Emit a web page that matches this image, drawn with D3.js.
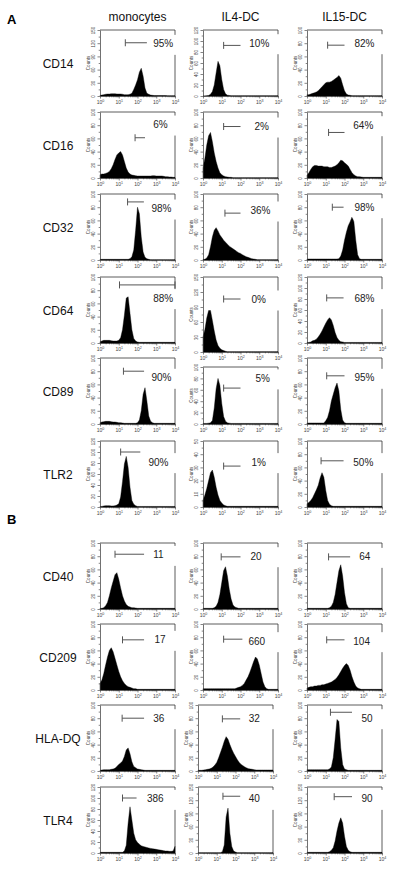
<!DOCTYPE html>
<html><head><meta charset="utf-8">
<script src="https://cdn.jsdelivr.net/npm/d3@7"></script>
<style>
body{margin:0;background:#fff;}
svg{display:block;font-family:Arial,"Liberation Sans",sans-serif;}
</style></head><body>
<svg id="c" width="400" height="871"></svg>
<script>
// ---------- DATA ----------
const columns = ["monocytes", "IL4-DC", "IL15-DC"];
const markersA = ["CD14", "CD16", "CD32", "CD64", "CD89", "TLR2"];
const markersB = ["CD40", "CD209", "HLA-DQ", "TLR4"];
const decadeTicks = [1, 10, 100, 1000, 10000];
// histogram channels: log10 fluorescence 0.0 .. 4.0 in steps of 0.1
const binExp = d3.range(41).map(i => i / 10);

// counts per channel, [monocytes, IL4-DC, IL15-DC]
const cd14Counts = [
  [1.5,2,3,4,4.5,4.5,5,5,5,4.5, 4.5,4.5,4,3,3,3,4,6,15,25, 37,54,63,45,18,6,4,2,1.5,1, 1,1,1,1,1,1,0.5,0.5,0.5,0.5, 0.5],
  [0,0,0.5,1,3,8,20,42,63,55, 30,12,4,1.5,1,0.5,0.5,0.5,0.5,0.5, 0.5,0.5,0.5,0.5,0.5,0.5,0.5,0.5,0.5,0.5, 0.5,0.5,0.5,0.5,0.5,0.5,0.5,0.5,0.5,0.5, 0.5],
  [2,2,3,4,5,6,8,11,14,17, 20,21,21,22,24,26,28,31,27,17, 8,3,1.5,1,0.5,0.5,0.5,0.5,0.5,0.5, 0.5,0.5,0.5,0.5,0.5,0.5,0.5,0.5,0.5,0.5, 0.5]
];
const cd16Counts = [
  [5,6,6,7,8,10,14,20,28,35, 38,40,35,25,15,9,6,4.5,4,3.5, 3,3,3,3,3,3,3,3,3.5,3.5, 3,3,3,3,2.5,2,2,1.5,1.5,1, 1],
  [15,30,50,64,69,55,38,25,15,8, 5,3,2,1.5,1,1,0.5,0.5,0.5,0.5, 0.5,0.5,0.5,0.5,0.5,0.5,0.5,0.5,0.5,0.5, 0.5,0.5,0.5,0.5,0.5,0.5,0.5,0.5,0.5,0.5, 0.5],
  [4,8,13,17,19,19,18,18,18,17, 17,17,16,16,17,18,20,23,27,26, 23,21,18,13,8,5,3,2,2,1.5, 1,1,1,1,1,1,1,1,1,1, 1]
];
const cd32Counts = [
  [1,1,1,1,1,1,1,1,1,1, 1,1,1,1,1,1,2,5,15,45, 80,70,35,12,4,2,1,0.5,0.5,0.5, 0.5,0.5,0.5,0.5,0.5,0.5,0.5,0.5,0.5,0.5, 0.5],
  [1,1,3,8,20,35,45,49,44,38, 34,30,27,24,21,19,17,15,13,11, 10,8,6.5,5,4,3,2,1.5,1,0.5, 0.5,0.5,0.5,0.5,0.5,0.5,0.5,0.5,0.5,0.5, 0.5],
  [1.5,1.5,1.5,1.5,1.5,1.5,1.5,1.5,1.5,1.5, 1.5,1.5,1.5,1.5,1.5,1.5,1.5,2,6,15, 30,42,52,58,65,58,30,8,2,1, 1,1,1,1,1,1,1,1,1,1, 1]
];
const cd64Counts = [
  [2,3,4,4,4,4,3.5,3,3,3, 4,8,20,42,68,70,45,20,7,3, 1.5,1,1,1,1,1,1,1,1,1, 1,1,1,1,1,1,1,1,1,1, 1],
  [30,45,68,83,83,63,42,24,13,7.5, 4.5,3,1.5,0.7,0.7,0.7,0.7,0.7,0.7,0.7, 0.7,0.7,0.7,0.7,0.7,0.7,0.7,0.7,0.7,0.7, 0.7,0.7,0.7,0.7,0.7,0.7,0.7,0.7,0.7,0.7, 0.7],
  [1,1,2,4,5,7,11,16,22,29, 36,42,46,42,32,19,10,5,2.5,2, 1,1,1,1,1,1,1,1,1,1, 1,1,1,1,1,1,1,1,1,1, 1]
];
const cd89Counts = [
  [2,3,3.5,4,4,4,3.5,3,3,2.5, 2,2,1.5,1,1,1,1,1,1,1, 2,6,20,45,55,35,12,4,2,1, 1,1,1,1,1,1,1,1,1,1, 1],
  [1,1,1,1.5,2,6,28,62,80,68, 36,13,5,2,1.5,1,1,1,1,1, 1,1,1,1,1,1,1,1,1,1, 1,1,1,1,1,1,1,1,1,1, 1],
  [1.5,1.5,1.5,1.5,1.5,1.5,1.5,1.5,1.5,1.5, 5,10,20,35,45,55,62,50,22,6, 2,1,1,1,1,1,1,1,1,1, 1,1,1,1,1,1,1,1,1,1, 1]
];
const tlr2Counts = [
  [1,1,2,2.5,2.5,2.5,2,2,2.5,3.5, 6,18,46,78,92,72,36,12,5,2.5, 1,1,1,1,1,1,1,1,1,1, 1,1,1,1,1,1,1,1,1,1, 1],
  [5,9,14,20,26,28,22.5,15,9,5, 3,1.5,1,0.5,0.5,0.5,0.5,0.5,0.5,0.5, 0.5,0.5,0.5,0.5,0.5,0.5,0.5,0.5,0.5,0.5, 0.5,0.5,0.5,0.5,0.5,0.5,0.5,0.5,0.5,0.5, 0.5],
  [5,7,10,14,20,26,33,44,52,45, 25,10,4,2,1,1,1,1,1,1, 1,1,1,1,1,1,1,1,1,1, 1,1,1,1,1,1,1,1,1,1, 1]
];
const cd40Counts = [
  [1,1,2,5,10,20,32,42,52,55, 45,32,20,12,7,4,3,2,2,1.5, 1,1,1,1,1,1,1,1,1,1, 1,1,1,1,1,1,1,1,1,1, 1],
  [1,1,1,1,1,1,2,4,10,22, 40,58,64,50,30,15,6,3,2,1, 1,1,1,1,1,1,1,1,1,1, 1,1,1,1,1,1,1,1,1,1, 1],
  [1,1,1,1,1,1,1,1,1,1, 1,1,2,4,10,22,40,58,67,50, 25,8,2,1,1,1,1,1,1,1, 1,1,1,1,1,1,1,1,1,1, 1]
];
const cd209Counts = [
  [10,15,25,38,50,60,64,58,48,38, 28,20,14,10,7,5,4,3,2,2, 1,1,1,1,1,1,1,1,1,1, 1,1,1,1,1,1,1,1,1,1, 1],
  [2,2,2,2,2,2,2,2,2,2, 2,2,2,2,2,2,2,2,3,4, 5,7,10,15,20,27,35,43,50,47, 38,25,12,5,2,1,1,1,1,1, 1],
  [3,4,5,5,6,6,7,7,8,8, 9,10,11,12,14,16,19,23,28,33, 37,40,37,30,20,12,6,3,2,1, 1,1,1,1,1,1,1,1,1,1, 1]
];
const hladqCounts = [
  [1,1.5,2,2,2,2,2.5,3,4,7, 10,12,15,22,32,35,26,14,7,5, 3,2.5,2,1.5,1,1,1,1,1,1, 1,1,1,1,1,1,1,1,1,1, 1],
  [1,1,1,1.5,2,2.5,3,4,6,9, 13,20,28,36,45,52,48,40,33,27, 22,17,13,10,8,6,4.5,3.5,3,2.5, 2,1.5,1.5,1.5,1.5,1.5,1.5,1.5,1.5,1.5, 1.5],
  [2,2,2,2,2,2,2,2,2,2, 2,2,3,6,20,48,78,75,35,10, 3,2,1,1,1,1,1,1,1,1, 1,1,1,1,1,1,1,1,1,1, 1]
];
const tlr4Counts = [
  [1.2,1.2,1.2,1.2,1.2,1.2,1.2,1.2,1.2,1.2, 1.2,1.2,1.2,3.6,14,54,84,60,36,24, 19,16,13,12,11,10,9,8.4,7.8,7.2, 6.6,6,5.4,4.8,4.2,3.6,3.6,3,3,3.6, 12],
  [0.8,0.8,0.8,0.8,0.8,0.8,0.8,0.8,0.8,0.8, 0.8,0.8,0.8,3,18,82,102,45,15,4.5, 2,0.8,0.8,0.8,0.8,0.8,0.8,0.8,0.8,0.8, 0.8,0.8,0.8,0.8,0.8,0.8,0.8,0.8,0.8,0.8, 0.8],
  [1.5,1.5,1.5,1.5,1.5,1.5,1.5,1.5,1.5,1.5, 1.5,1.5,3,6,12,27,50,68,80,68, 38,15,6,3,1.5,1.5,1.5,1.5,1.5,1.5, 1.5,1.5,1.5,1.5,1.5,1.5,1.5,1.5,1.5,1.5, 1.5]
];
const countsA = [cd14Counts, cd16Counts, cd32Counts, cd64Counts, cd89Counts, tlr2Counts];
const countsB = [cd40Counts, cd209Counts, hladqCounts, tlr4Counts];

// y-axis maximum (counts)
const yMaxA = [[150,120,100],[100,100,100],[100,100,100],[100,150,120],[100,100,100],[120,50,100]];
const yMaxB = [[100,100,100],[100,100,100],[100,100,100],[120,150,150]];

// marker gate: [start exponent, end exponent, count level]
const gatesA = [
  [[1.35,2.5,121],[1.1,2.0,92],[1.1,2.0,77]],
  [[1.87,2.4,61],[1.1,2.0,78],[1.15,2.0,69]],
  [[1.47,2.34,88],[1.17,2.0,71],[1.35,1.95,80]],
  [[1.04,4.0,88],[1.1,2.0,106],[1.05,1.95,82]],
  [[1.25,2.35,80],[1.1,2.0,63],[1.05,2.0,73]],
  [[1.1,2.15,100],[1.1,2.0,31],[0.75,1.95,70]]
];
const gatesB = [
  [[0.8,2.35,83],[0.97,2.0,79],[1.15,2.3,79]],
  [[1.2,2.35,76],[1.1,2.1,77],[1.05,2.0,76]],
  [[1.18,2.35,80],[1.3,2.25,79],[1.25,2.4,89]],
  [[1.2,1.95,100],[1.33,2.25,129],[1.45,2.4,128]]
];
const statsA = [["95%","10%","82%"],["6%","2%","64%"],["98%","36%","98%"],["88%","0%","68%"],["90%","5%","95%"],["90%","1%","50%"]];
const statsB = [["11","20","64"],["17","660","104"],["36","32","50"],["386","40","90"]];

// ---------- LAYOUT ----------
const rowTopA = [30, 112, 194, 277, 358, 441];
const rowTopB = [543, 624, 705, 787];
const colLeft = [100, 203, 307];
const boxW = 75, boxH = 66;
// individual panels that sit off the regular grid: key "section-row-col"
const boxOverride = {
  "A-3-1": {top: 277, h: 75},
  "A-4-1": {top: 367, h: 57},
  "B-2-1": {left: 198},
  "B-3-1": {left: 198}
};
// stat label anchor in axis units: [exponent, fraction of y range]
const labelAtA = [
  [[2.84,0.79],[2.47,0.8],[2.53,0.8]],
  [[2.84,0.81],[2.74,0.78],[2.47,0.8]],
  [[2.74,0.78],[2.53,0.75],[2.53,0.8]],
  [[2.84,0.68],[2.58,0.7],[2.53,0.68]],
  [[2.74,0.7],[2.8,0.8],[2.53,0.7]],
  [[2.58,0.68],[2.58,0.68],[2.47,0.68]]
];
const labelAtB = [
  [[2.84,0.82],[2.53,0.8],[2.79,0.79]],
  [[2.9,0.76],[2.42,0.74],[2.47,0.74]],
  [[2.84,0.8],[2.7,0.8],[2.9,0.8]],
  [[2.5,0.82],[2.7,0.82],[2.9,0.82]]
];

const svg = d3.select("#c");
const axisColor = "#333";

function tickStep(m){ return m === 150 ? 30 : (m === 50 ? 10 : 20); }

function drawPanel(counts, ymax, gate, stat, lab, left, top, h, twoEnded) {
  const g = svg.append("g");
  const x = d3.scaleLog().domain([1, 1e4]).range([left, left + boxW]);
  const y = d3.scaleLinear().domain([0, ymax]).range([top + h, top]);
  const pts = counts.map((c, i) => ({v: Math.pow(10, binExp[i]), c: Math.min(c, ymax)}));

  // frame (top & right)
  g.append("line").attr("x1", left).attr("x2", left + boxW).attr("y1", top).attr("y2", top)
    .attr("stroke", axisColor).attr("stroke-width", 0.8);
  g.append("line").attr("x1", left + boxW).attr("x2", left + boxW).attr("y1", top).attr("y2", top + h)
    .attr("stroke", axisColor).attr("stroke-width", 0.8);

  // histogram
  g.append("path").datum(pts)
    .attr("d", d3.area().x(d => x(d.v)).y0(y(0)).y1(d => y(d.c)))
    .attr("fill", "#000").attr("stroke", "#000").attr("stroke-width", 0.4);

  // x axis
  const xa = g.append("g").attr("transform", `translate(0,${top + h})`)
    .call(d3.axisBottom(x).tickValues(decadeTicks).tickSize(2.5).tickSizeOuter(0).tickPadding(1.5).tickFormat(() => "10"));
  xa.selectAll(".tick text").attr("font-size", 5).attr("fill", "#444")
    .each(function(d){ d3.select(this).append("tspan").attr("dy", -2).attr("font-size", 3.6).text(Math.round(Math.log10(d))); });
  const minors = [];
  decadeTicks.slice(0, 4).forEach(d => [2,3,4,5,6,7,8,9].forEach(k => minors.push(d * k)));
  g.append("g").attr("transform", `translate(0,${top + h})`)
    .call(d3.axisBottom(x).tickValues(minors).tickSize(1.3).tickSizeOuter(0).tickFormat(""))
    .call(s => s.select(".domain").remove());

  // y axis
  const step = tickStep(ymax);
  const ya = g.append("g").attr("transform", `translate(${left},0)`)
    .call(d3.axisLeft(y).tickValues(d3.range(0, ymax + 1, step)).tickSize(2.5).tickSizeOuter(0));
  ya.selectAll(".tick text").attr("font-size", 4.5).attr("fill", "#444")
    .attr("transform", "rotate(-90)").attr("x", 0).attr("y", -5.5).attr("dy", 0).attr("text-anchor", "middle");
  g.append("g").attr("transform", `translate(${left},0)`)
    .call(d3.axisLeft(y).tickValues(d3.range(step / 2, ymax, step)).tickSize(1.3).tickSizeOuter(0).tickFormat(""))
    .call(s => s.select(".domain").remove());
  [xa, ya].forEach(a => { a.selectAll("path, line").attr("stroke", axisColor).attr("stroke-width", 0.7); });
  g.selectAll("g .tick line").attr("stroke", axisColor).attr("stroke-width", 0.6);
  g.append("text").attr("transform", `translate(${left - 10},${top + h / 2}) rotate(-90)`)
    .attr("text-anchor", "middle").attr("font-size", 4.5).attr("fill", "#444").text("Counts");

  // gate marker
  const gx1 = x(Math.pow(10, gate[0])), gx2 = x(Math.pow(10, gate[1])), gy = y(gate[2]);
  const gc = "#555";
  g.append("line").attr("x1", gx1).attr("x2", gx2).attr("y1", gy).attr("y2", gy).attr("stroke", gc).attr("stroke-width", 1);
  g.append("line").attr("x1", gx1).attr("x2", gx1).attr("y1", gy - 3.5).attr("y2", gy + 3.5).attr("stroke", gc).attr("stroke-width", 1);
  if (twoEnded) g.append("line").attr("x1", gx2).attr("x2", gx2).attr("y1", gy - 3.5).attr("y2", gy + 3.5).attr("stroke", gc).attr("stroke-width", 1);

  // statistic label
  const lx = x(Math.pow(10, lab[0])), ly = y(lab[1] * ymax);
  g.append("rect").attr("x", lx - 2).attr("y", ly - 9).attr("width", left + boxW + 2 - (lx - 2)).attr("height", 20).attr("fill", "#fff");
  g.append("text").attr("x", lx).attr("y", ly + 3.6).attr("font-size", 10).attr("fill", "#222").text(stat);
}

// section letters & headers
svg.append("text").attr("x", 7).attr("y", 24).attr("font-size", 13).attr("font-weight", "bold").text("A");
svg.append("text").attr("x", 7).attr("y", 524).attr("font-size", 13).attr("font-weight", "bold").text("B");
columns.forEach((c, j) => {
  svg.append("text").attr("x", colLeft[j] + boxW / 2).attr("y", 21).attr("text-anchor", "middle")
    .attr("font-size", 12).attr("fill", "#111").text(c);
});

function drawSection(key, markers, counts, yMax, gates, stats, labs, tops) {
  markers.forEach((m, r) => {
    svg.append("text").attr("x", 58).attr("y", tops[r] + boxH / 2 + 5).attr("text-anchor", "middle")
      .attr("font-size", 12).attr("fill", "#111").text(m);
    for (let j = 0; j < 3; j++) {
      const o = boxOverride[`${key}-${r}-${j}`] || {};
      drawPanel(counts[r][j], yMax[r][j], gates[r][j], stats[r][j], labs[r][j],
        o.left ?? colLeft[j], o.top ?? tops[r], o.h ?? boxH, gates[r][j][1] >= 4);
    }
  });
}
drawSection("A", markersA, countsA, yMaxA, gatesA, statsA, labelAtA, rowTopA);
drawSection("B", markersB, countsB, yMaxB, gatesB, statsB, labelAtB, rowTopB);
</script></body></html>
